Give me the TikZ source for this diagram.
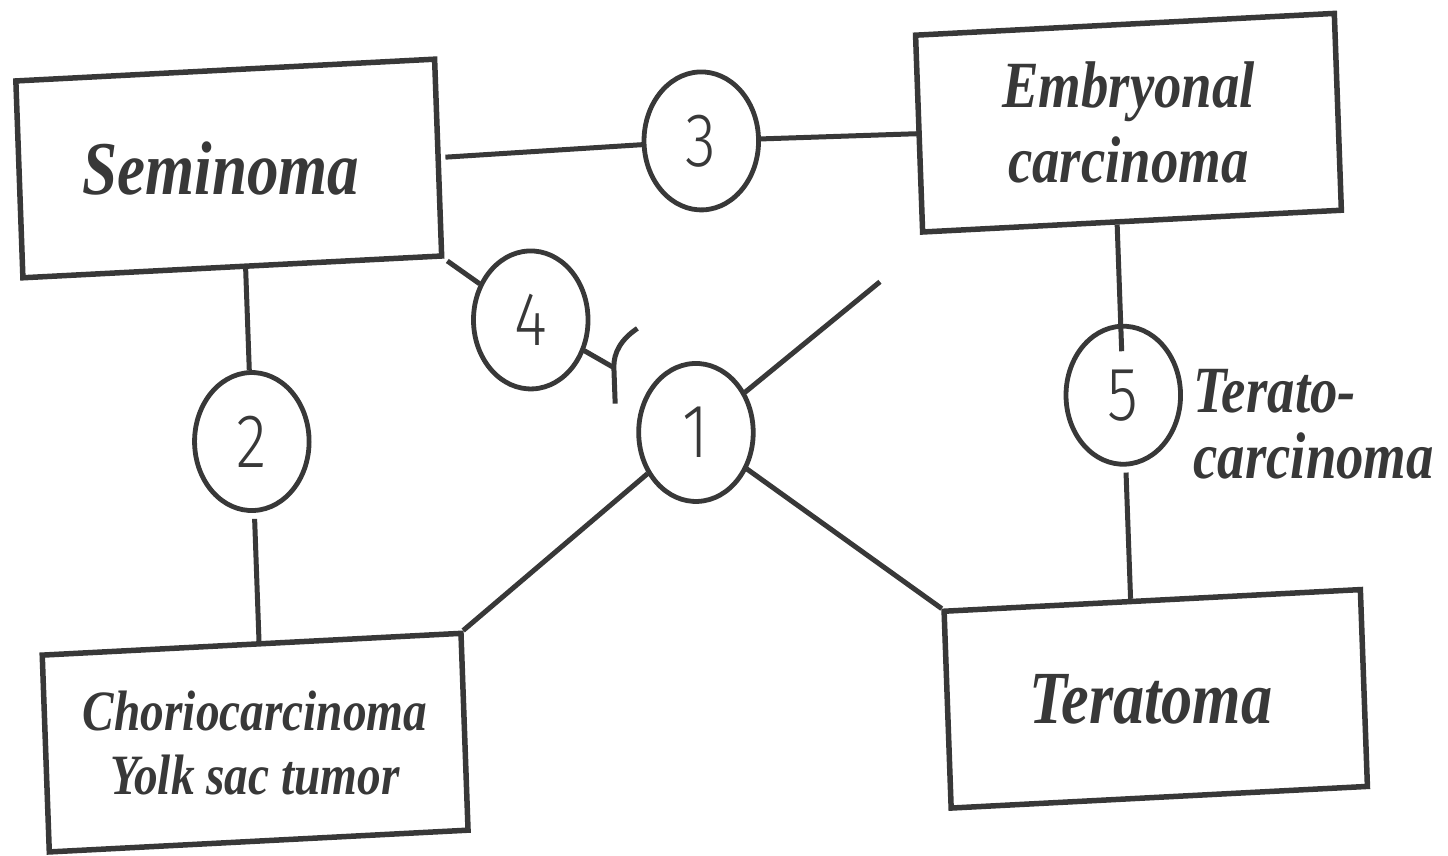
\documentclass[tikz,border=0pt]{standalone}
\usepackage{fontspec}
\setmainfont{Liberation Serif}
% narrow faces, as on the printed sheet
\newfontfamily\labelfont{Liberation Serif}[FakeStretch=0.83]
\newfontfamily\digitfont{Fira Sans Light}[FakeStretch=0.83]
\definecolor{ink}{HTML}{383838}
\begin{document}
\begin{tikzpicture}[x=1pt,y=1pt,
  tumor/.style={draw=ink, line width=5.5pt, rectangle, minimum width=505pt,
    minimum height=197pt, inner sep=0pt},
  stage/.style={draw=ink, line width=4.8pt, circle, minimum size=138pt, inner sep=0pt},
  tumortext/.style={text=ink, align=center, inner sep=0pt},
  digit/.style={text=ink, inner sep=0pt, font=\digitfont\fontsize{76}{76}\selectfont},
  link/.style={draw=ink, line width=5pt}]
\useasboundingbox (0,0) rectangle (1448,855);
% the whole sheet is slightly tilted and narrowed
\begin{scope}[cm={0.8292,0.0431,-0.0358,0.99907,(724pt,428pt)}, transform shape]
  % tumour types
  \node[tumor] (sem) at (-585,284) {};
  \node[tumor] (emb) at (500,283) {};
  \node[tumor] (cho) at (-578,-291) {};
  \node[tumor, minimum width=502pt] (ter) at (508,-294) {};
  % numbered pathways
  \node[stage] (c1) at (-34,-4) {};
  \node[stage] (c2) at (-569,10) {};
  \node[stage] (c3) at (-15,287) {};
  \node[stage] (c4) at (-228,117) {};
  \node[stage] (c5) at (482,11) {};
  % helper points
  \coordinate (tcpos) at (565,-22);
  \coordinate (e1) at (194,137);
  \coordinate (barA) at (-100,103);
  \coordinate (barJ) at (-130,65);
  \coordinate (barB) at (-130,29);
  % connectors
  \draw[link, shorten <=5pt] (sem.east) -- (c3);
  \draw[link] (c3) -- (emb.west);
  \draw[link] (c2 |- sem.south) -- (c2);
  \draw[link, shorten <=6pt] (c2) -- (c2 |- cho.north);
  \draw[link, shorten <=4pt] (sem.south east) -- (c4);
  \draw[link] (c4) -- (barJ);
  \draw[link] (barA) .. controls (-120,93) and (-130,80) .. (barJ) -- (barB);
  \draw[link] (c1) -- (e1);
  \draw[link] (c1) -- (cho.north east);
  \draw[link] (c1) -- (ter.north west);
  \draw[link, shorten >=44pt] (c5 |- emb.south) -- (c5.center);
  \draw[link, shorten <=6pt] (c5) -- (c5 |- ter.north);
\end{scope}
% labels, set upright on the page
\node[tumortext, xshift=-8pt, font=\labelfont\bfseries\itshape\fontsize{76}{80}\selectfont] (semtext) at (sem.center) {Seminoma};
\node[tumortext, font=\labelfont\bfseries\itshape\fontsize{66}{75}\selectfont] (embtext) at (emb.center) {Embryonal\\carcinoma};
\node[tumortext, font=\labelfont\bfseries\itshape\fontsize{57}{64}\selectfont] (chotext) at (cho.center) {Choriocarcinoma\\Yolk sac tumor};
\node[tumortext, xshift=-5pt, font=\labelfont\bfseries\itshape\fontsize{75}{78}\selectfont] (tertext) at (ter.center) {Teratoma};
\node[tumortext, anchor=west, align=left, font=\labelfont\bfseries\itshape\fontsize{66}{66}\selectfont] (tc) at (tcpos) {Terato-\\carcinoma};
\node[digit] (n1) at (c1) {1};
\node[digit] (n2) at (c2) {2};
\node[digit] (n3) at (c3) {3};
\node[digit] (n4) at (c4) {4};
\node[digit] (n5) at (c5) {5};
\end{tikzpicture}
\end{document}
